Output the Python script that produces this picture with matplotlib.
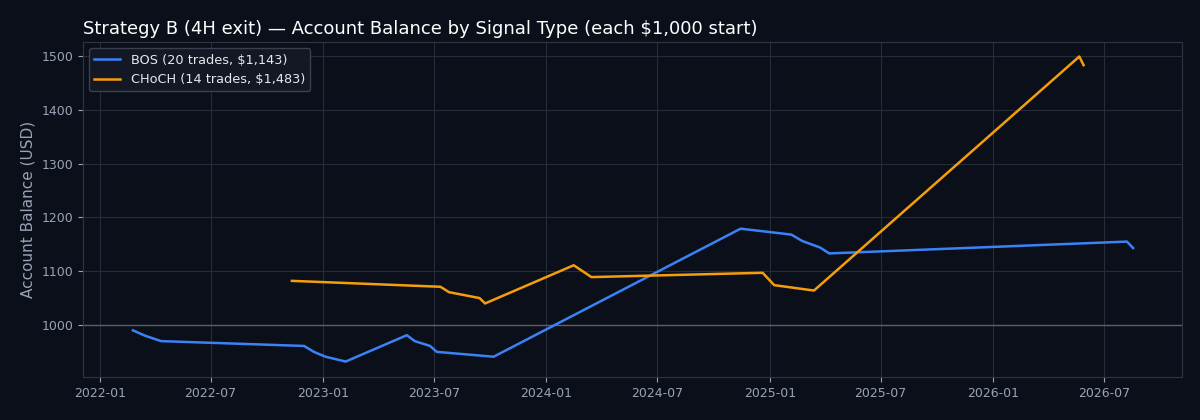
import matplotlib
matplotlib.use("Agg")
import matplotlib.pyplot as plt
import matplotlib.dates as mdates
import pandas as pd

# BOS equity curve (balance after each trade)
bos_dates = ["2022-02-24", "2022-03-16", "2022-04-11", "2022-12-01", "2022-12-17",
             "2023-01-05", "2023-02-07", "2023-05-18", "2023-05-31", "2023-06-25",
             "2023-07-06", "2023-10-07", "2024-11-14", "2025-02-05", "2025-02-23",
             "2025-03-24", "2025-04-08", "2026-08-08", "2026-08-18"]
bos_balance = [990, 980, 970, 961, 950,
               941, 932, 981, 970, 961,
               950, 941, 1179, 1168, 1156,
               1144, 1133, 1155, 1143]

# CHoCH equity curve
choch_dates = ["2022-11-11", "2023-07-12", "2023-07-26", "2023-09-14", "2023-09-23",
               "2024-02-15", "2024-03-15", "2024-12-20", "2025-01-08", "2025-03-14",
               "2026-05-22", "2026-05-29"]
choch_balance = [1082, 1071, 1061, 1050, 1040,
                 1111, 1089, 1097, 1074, 1064,
                 1499, 1483]

bos_label = "BOS (20 trades, $1,143)"
choch_label = "CHoCH (14 trades, $1,483)"
start_balance = 1000

bg = "#0b0f19"
grid_c = "#262c3a"
text_c = "#9aa3b5"

fig = plt.figure(figsize=(12, 4.2), dpi=100, facecolor=bg)
ax = fig.add_axes([0.069, 0.102, 0.916, 0.798])
ax.set_facecolor(bg)

ax.plot(pd.to_datetime(bos_dates), bos_balance, color="#3b82f6", lw=1.8, label=bos_label)
ax.plot(pd.to_datetime(choch_dates), choch_balance, color="#f59e0b", lw=1.8, label=choch_label)
ax.axhline(start_balance, color="#5a606d", lw=1.0, zorder=1)

ax.set_xlim(pd.Timestamp("2021-12-04"), pd.Timestamp("2026-11-06"))
ax.set_ylim(903, 1526)
ax.set_yticks([1000, 1100, 1200, 1300, 1400, 1500])
ax.xaxis.set_major_locator(mdates.MonthLocator(bymonth=[1, 7]))
ax.xaxis.set_major_formatter(mdates.DateFormatter("%Y-%m"))

ax.grid(True, color=grid_c, lw=0.8)
ax.set_axisbelow(True)
for s in ax.spines.values():
    s.set_color("#2e3442")
ax.tick_params(colors=text_c, labelsize=9)

ax.set_title("Strategy B (4H exit) \u2014 Account Balance by Signal Type (each $1,000 start)",
             loc="left", color="white", fontsize=13)
ax.set_ylabel("Account Balance (USD)", color=text_c, fontsize=11)

leg = ax.legend(loc="upper left", fontsize=9.3, facecolor="#131824", edgecolor="#3a404d",
                framealpha=1.0)
for t in leg.get_texts():
    t.set_color("#e6e8ee")

fig.savefig("out.png", dpi=100, facecolor=bg)
